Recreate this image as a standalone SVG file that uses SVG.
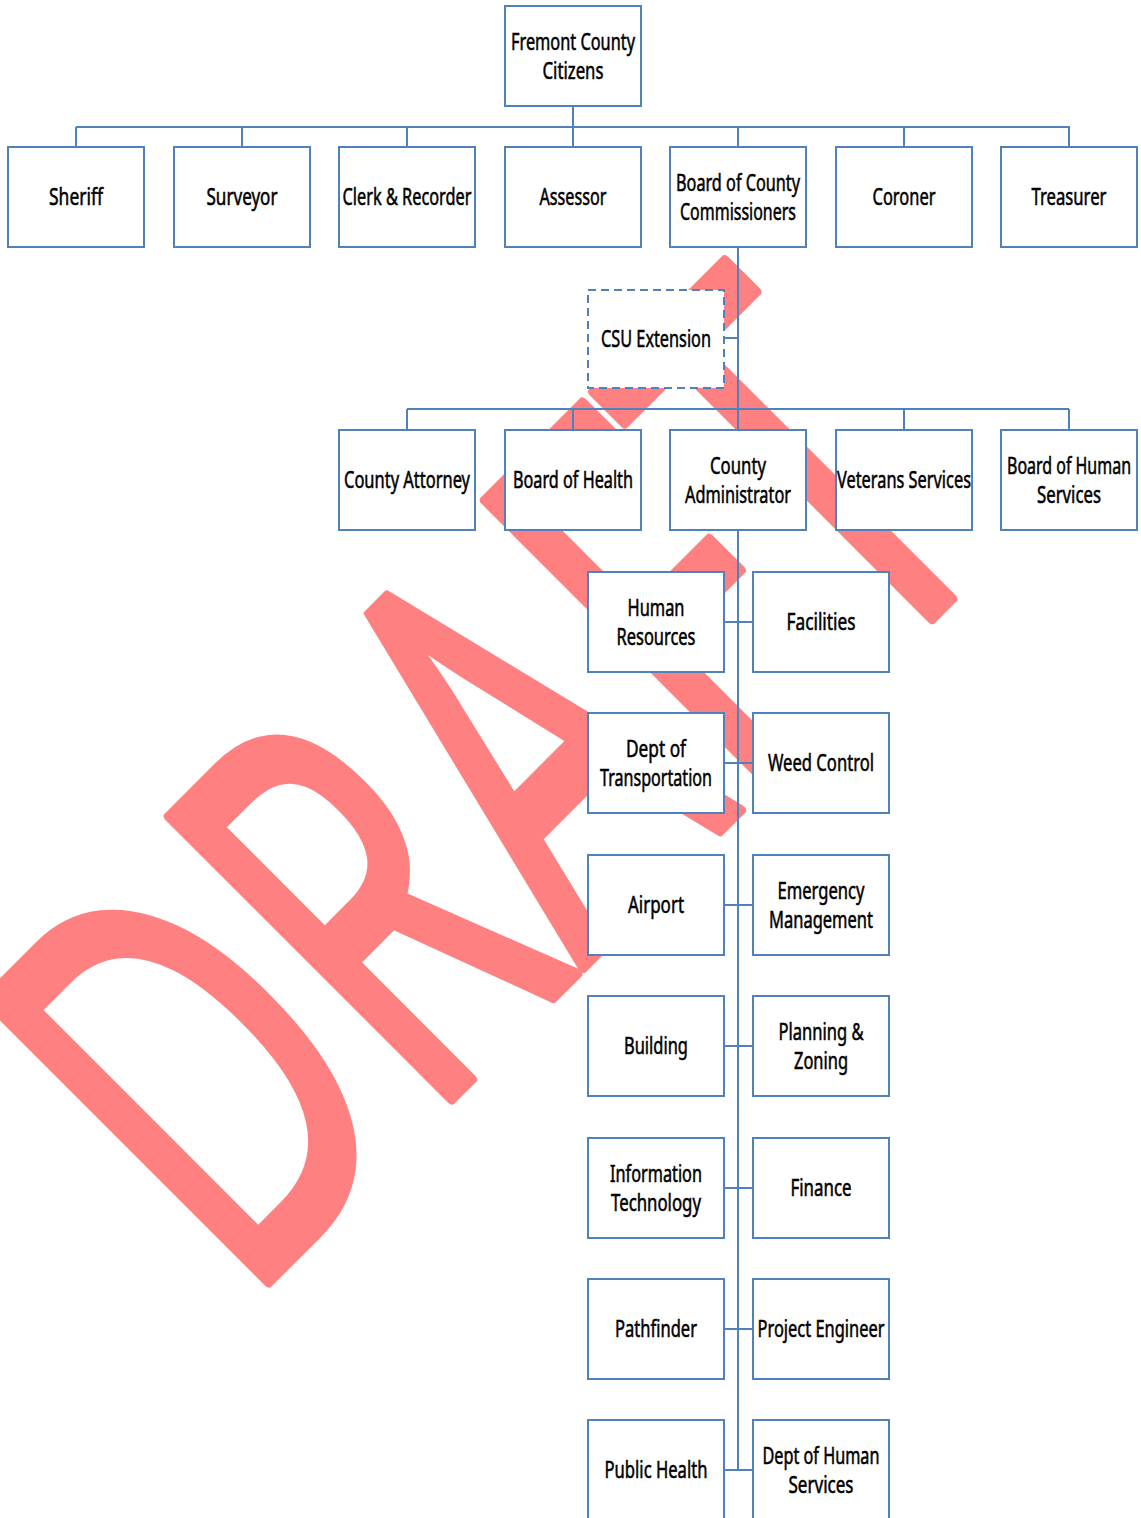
<svg xmlns="http://www.w3.org/2000/svg" width="1141" height="1518" viewBox="0 0 1141 1518">
<style>
.bx{fill:#fff;stroke:#4F81BD;stroke-width:2}
.dash{stroke-dasharray:8,5}
.ln{fill:none;stroke:#4F81BD;stroke-width:2}
.t{font-family:"Noto Sans","Open Sans","Liberation Sans",sans-serif;font-size:23px;fill:#000;stroke:#000;stroke-width:0.55;text-anchor:middle}
.wm{font-family:"Noto Sans","Open Sans","Liberation Sans",sans-serif;font-size:560px;fill:#FF8080;stroke:#FF8080;stroke-width:10;stroke-linejoin:round;text-anchor:middle}
</style>
<rect width="1141" height="1518" fill="#fff"/>
<g id="watermark">
<text class="wm" transform="translate(631,927) rotate(-45)" x="0" y="-5" textLength="1087" lengthAdjust="spacingAndGlyphs">DRAFT</text>
</g>
<g id="connectors" class="ln">
<path d="M573,106V127M76,127H1070M76,127V147M242,127V147M407,127V147M573,127V147M738,127V147M904,127V147M1069,127V147"/>
<path d="M738,247V430M724,338H738"/>
<path d="M407,409H1069M407,409V430M573,409V430M904,409V430M1069,409V430"/>
<path d="M738,530V1470M724,622H753M724,763H753M724,905H753M724,1046H753M724,1188H753M724,1329H753M724,1470H753"/>
</g>
<g id="n-citizens"><rect class="bx" x="505" y="6" width="136" height="100"/><text class="t" x="573" y="49.5" textLength="124" lengthAdjust="spacingAndGlyphs">Fremont County</text><text class="t" x="573" y="78.5" textLength="61" lengthAdjust="spacingAndGlyphs">Citizens</text></g>
<g id="n-sheriff"><rect class="bx" x="8" y="147" width="136" height="100"/><text class="t" x="76" y="205" textLength="54" lengthAdjust="spacingAndGlyphs">Sheriff</text></g>
<g id="n-surveyor"><rect class="bx" x="174" y="147" width="136" height="100"/><text class="t" x="242" y="205" textLength="71" lengthAdjust="spacingAndGlyphs">Surveyor</text></g>
<g id="n-clerk"><rect class="bx" x="339" y="147" width="136" height="100"/><text class="t" x="407" y="205" textLength="129" lengthAdjust="spacingAndGlyphs">Clerk &amp; Recorder</text></g>
<g id="n-assessor"><rect class="bx" x="505" y="147" width="136" height="100"/><text class="t" x="573" y="205" textLength="67" lengthAdjust="spacingAndGlyphs">Assessor</text></g>
<g id="n-bocc"><rect class="bx" x="670" y="147" width="136" height="100"/><text class="t" x="738" y="190.5" textLength="124" lengthAdjust="spacingAndGlyphs">Board of County</text><text class="t" x="738" y="219.5" textLength="116" lengthAdjust="spacingAndGlyphs">Commissioners</text></g>
<g id="n-coroner"><rect class="bx" x="836" y="147" width="136" height="100"/><text class="t" x="904" y="205" textLength="63" lengthAdjust="spacingAndGlyphs">Coroner</text></g>
<g id="n-treasurer"><rect class="bx" x="1001" y="147" width="136" height="100"/><text class="t" x="1069" y="205" textLength="75" lengthAdjust="spacingAndGlyphs">Treasurer</text></g>
<g id="n-csu"><rect class="bx dash" x="588" y="290" width="136" height="98"/><text class="t" x="656" y="347" textLength="110" lengthAdjust="spacingAndGlyphs">CSU Extension</text></g>
<g id="n-attorney"><rect class="bx" x="339" y="430" width="136" height="100"/><text class="t" x="407" y="488" textLength="126" lengthAdjust="spacingAndGlyphs">County Attorney</text></g>
<g id="n-boh"><rect class="bx" x="505" y="430" width="136" height="100"/><text class="t" x="573" y="488" textLength="120" lengthAdjust="spacingAndGlyphs">Board of Health</text></g>
<g id="n-admin"><rect class="bx" x="670" y="430" width="136" height="100"/><text class="t" x="738" y="473.5" textLength="56" lengthAdjust="spacingAndGlyphs">County</text><text class="t" x="738" y="502.5" textLength="106" lengthAdjust="spacingAndGlyphs">Administrator</text></g>
<g id="n-veterans"><rect class="bx" x="836" y="430" width="136" height="100"/><text class="t" x="904" y="488" textLength="134" lengthAdjust="spacingAndGlyphs">Veterans Services</text></g>
<g id="n-bhs"><rect class="bx" x="1001" y="430" width="136" height="100"/><text class="t" x="1069" y="473.5" textLength="124" lengthAdjust="spacingAndGlyphs">Board of Human</text><text class="t" x="1069" y="502.5" textLength="64" lengthAdjust="spacingAndGlyphs">Services</text></g>
<g id="n-hr"><rect class="bx" x="588" y="572" width="136" height="100"/><text class="t" x="656" y="615.5" textLength="57" lengthAdjust="spacingAndGlyphs">Human</text><text class="t" x="656" y="644.5" textLength="79" lengthAdjust="spacingAndGlyphs">Resources</text></g>
<g id="n-facilities"><rect class="bx" x="753" y="572" width="136" height="100"/><text class="t" x="821" y="630" textLength="69" lengthAdjust="spacingAndGlyphs">Facilities</text></g>
<g id="n-dot"><rect class="bx" x="588" y="713" width="136" height="100"/><text class="t" x="656" y="756.5" textLength="60" lengthAdjust="spacingAndGlyphs">Dept of</text><text class="t" x="656" y="785.5" textLength="112" lengthAdjust="spacingAndGlyphs">Transportation</text></g>
<g id="n-weed"><rect class="bx" x="753" y="713" width="136" height="100"/><text class="t" x="821" y="771" textLength="106" lengthAdjust="spacingAndGlyphs">Weed Control</text></g>
<g id="n-airport"><rect class="bx" x="588" y="855" width="136" height="100"/><text class="t" x="656" y="913" textLength="56" lengthAdjust="spacingAndGlyphs">Airport</text></g>
<g id="n-em"><rect class="bx" x="753" y="855" width="136" height="100"/><text class="t" x="821" y="898.5" textLength="87" lengthAdjust="spacingAndGlyphs">Emergency</text><text class="t" x="821" y="927.5" textLength="104" lengthAdjust="spacingAndGlyphs">Management</text></g>
<g id="n-building"><rect class="bx" x="588" y="996" width="136" height="100"/><text class="t" x="656" y="1054" textLength="64" lengthAdjust="spacingAndGlyphs">Building</text></g>
<g id="n-pz"><rect class="bx" x="753" y="996" width="136" height="100"/><text class="t" x="821" y="1039.5" textLength="85" lengthAdjust="spacingAndGlyphs">Planning &amp;</text><text class="t" x="821" y="1068.5" textLength="54" lengthAdjust="spacingAndGlyphs">Zoning</text></g>
<g id="n-it"><rect class="bx" x="588" y="1138" width="136" height="100"/><text class="t" x="656" y="1181.5" textLength="92" lengthAdjust="spacingAndGlyphs">Information</text><text class="t" x="656" y="1210.5" textLength="90" lengthAdjust="spacingAndGlyphs">Technology</text></g>
<g id="n-finance"><rect class="bx" x="753" y="1138" width="136" height="100"/><text class="t" x="821" y="1196" textLength="61" lengthAdjust="spacingAndGlyphs">Finance</text></g>
<g id="n-pathfinder"><rect class="bx" x="588" y="1279" width="136" height="100"/><text class="t" x="656" y="1337" textLength="82" lengthAdjust="spacingAndGlyphs">Pathfinder</text></g>
<g id="n-pe"><rect class="bx" x="753" y="1279" width="136" height="100"/><text class="t" x="821" y="1337" textLength="127" lengthAdjust="spacingAndGlyphs">Project Engineer</text></g>
<g id="n-ph"><rect class="bx" x="588" y="1420" width="136" height="100"/><text class="t" x="656" y="1478" textLength="103" lengthAdjust="spacingAndGlyphs">Public Health</text></g>
<g id="n-dhs"><rect class="bx" x="753" y="1420" width="136" height="100"/><text class="t" x="821" y="1463.5" textLength="117" lengthAdjust="spacingAndGlyphs">Dept of Human</text><text class="t" x="821" y="1492.5" textLength="65" lengthAdjust="spacingAndGlyphs">Services</text></g>
</svg>
